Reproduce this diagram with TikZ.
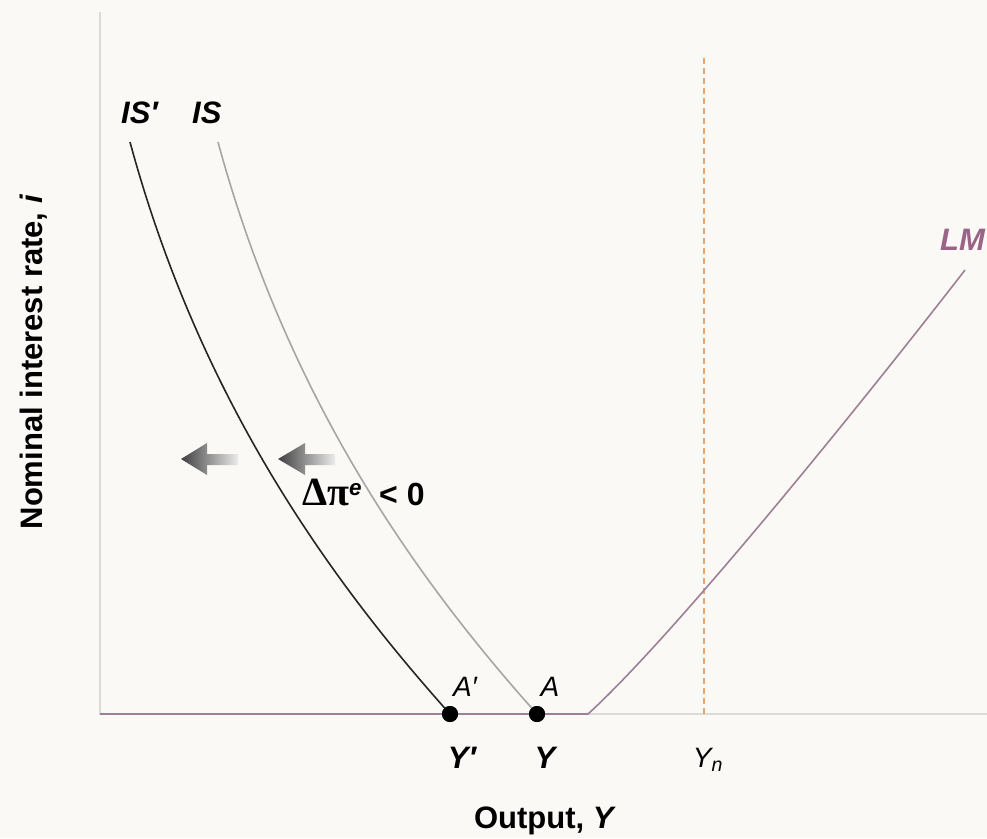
\documentclass[tikz,border=0pt]{standalone}
\usepackage{fontspec}
\setmainfont{Liberation Sans}
\newfontfamily\serifgreek{Liberation Serif}
\begin{document}
\begin{tikzpicture}[x=1pt,y=-1pt,
  lbl/.style={font=\fontsize{31}{33}\selectfont\bfseries\itshape, inner sep=0pt},
  lblplain/.style={font=\fontsize{28}{30}\selectfont\itshape, inner sep=0pt},
  axislbl/.style={font=\fontsize{31}{33}\selectfont\bfseries, inner sep=0pt},
  axisline/.style={draw=black!14, line width=1.6pt},
  dotstyle/.style={circle, fill=black, inner sep=0pt, minimum size=16pt}]
\definecolor{bg}{HTML}{FAF9F6}
\definecolor{lmcol}{HTML}{9E8096}
\definecolor{lmtext}{HTML}{9A6486}
\definecolor{yncol}{HTML}{EBA56A}
\fill[bg] (0,0) rectangle (987,838);
\useasboundingbox (0,0) rectangle (987,838);
% axes
\coordinate (O) at (100,714);
\coordinate (ytop) at (100,12);
\coordinate (xend) at (987,714);
\draw[axisline] (ytop) -- (O) -- (xend);
% Yn dashed line
\coordinate (yntop) at (704,58);
\coordinate (ynbot) at (704,714);
\draw[yncol, dash pattern=on 6pt off 4pt, line width=1.3pt] (yntop) -- (ynbot);
% LM
\coordinate (kink) at (588,714);
\coordinate (lmend) at (965,270);
\draw[lmcol, line width=1.6pt] (O) -- (kink) .. controls (680,630) and (880,380) .. (lmend);
% IS curves
\coordinate (isptop) at (130,142);
\coordinate (istop) at (218,142);
\node[dotstyle] (Ap) at (450,714) {};
\node[dotstyle] (A) at (537,714) {};
\draw[black!85, line width=1.6pt] (isptop) .. controls (200,400) and (330,580) .. (Ap.center);
\draw[black!35, line width=1.6pt] (istop) .. controls (288,400) and (417,580) .. (A.center);
\node[dotstyle] at (450,714) {};
\node[dotstyle] at (537,714) {};
% arrows
\shade[left color=black!75, right color=black!8]
  (181,459) -- (207,443) -- (207,454) -- (238,454) -- (238,465) -- (207,465) -- (207,475) -- cycle;
\shade[left color=black!75, right color=black!8]
  (278,459) -- (305,443) -- (305,454) -- (335,454) -- (335,465) -- (305,465) -- (305,475) -- cycle;
% labels
\node[lbl, anchor=west] (ISp) at (121,113) {IS′};
\node[lbl, anchor=west] (IS) at (192,113) {IS};
\node[lbl, text=lmtext, anchor=west] (LM) at (940,240) {LM};
\node[inner sep=0pt, anchor=west, font=\fontsize{32}{34}\selectfont\bfseries] (dpi) at (302,492)
  {{\serifgreek\fontsize{40}{40}\selectfont Δπ}\textsuperscript{\itshape e}\hspace*{17pt}<\hspace*{9pt}0};
\node[lblplain] (Aplbl) at (465,687) {A′};
\node[lblplain] (Albl) at (550,687) {A};
\node[lbl] (Ypl) at (462,758) {Y′};
\node[lbl] (Yl) at (545,758) {Y};
\node[lblplain] (Ynl) at (708,760) {Y\textsubscript{\itshape n}};
\node[axislbl] (xlab) at (545,821) {Output, \textit{Y}};
\node[axislbl, rotate=90] (ylab) at (34,362) {Nominal interest rate, \textit{i}};
\end{tikzpicture}
\end{document}
